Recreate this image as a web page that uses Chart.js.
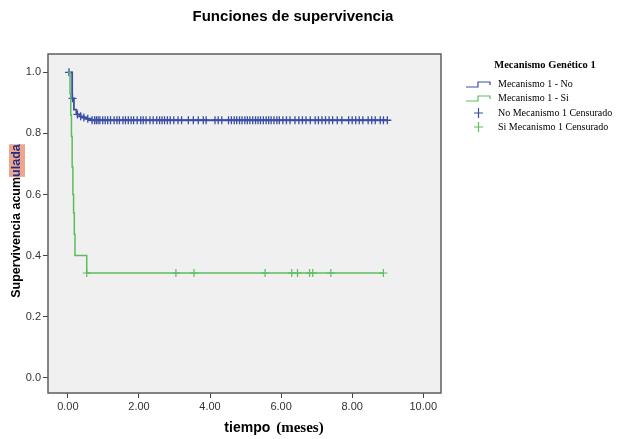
<!DOCTYPE html>
<html>
<head>
<meta charset="utf-8">
<script src="https://cdn.jsdelivr.net/npm/chart.js@4.4.1/dist/chart.umd.min.js"></script>
<style>
  html, body { margin: 0; padding: 0; background: #fff; }
  canvas { display: block; }
</style>
</head>
<body>
<canvas id="km" width="621" height="439"></canvas>
<script>
// tick labels
const xTicks = [0, 2, 4, 6, 8, 10];
const yTicks = [0, 0.2, 0.4, 0.6, 0.8, 1.0];

// Mecanismo 1 - No : step curve (time, survival)
const noTimes = [0, 0.12, 0.17, 0.24, 0.33, 0.42, 0.52, 0.64, 8.99];
const noSurv = [1.0, 0.915, 0.878, 0.862, 0.856, 0.852, 0.848, 0.843, 0.843];
const noCensored = [0.03, 0.13, 0.27, 0.36, 0.45, 0.56, 0.68, 0.75, 0.8, 0.85, 0.9, 0.98,
  1.05, 1.12, 1.2, 1.3, 1.38, 1.45, 1.55, 1.62, 1.7, 1.78, 1.85, 1.95, 2.05, 2.12, 2.2,
  2.31, 2.4, 2.5, 2.58, 2.65, 2.72, 2.8, 2.88, 2.98, 3.1, 3.2, 3.39, 3.53, 3.67, 3.81,
  3.89, 4.14, 4.23, 4.33, 4.52, 4.6, 4.68, 4.75, 4.83, 4.9, 4.98, 5.05, 5.12, 5.2, 5.28,
  5.35, 5.42, 5.5, 5.58, 5.65, 5.72, 5.8, 5.88, 5.95, 6.05, 6.15, 6.25, 6.39, 6.5, 6.6,
  6.7, 6.82, 6.96, 7.05, 7.15, 7.25, 7.35, 7.45, 7.58, 7.71, 7.9, 8.0, 8.1, 8.2, 8.3,
  8.45, 8.55, 8.65, 8.79, 8.88, 8.99];

// Mecanismo 1 - Si
const siTimes = [0, 0.06, 0.08, 0.1, 0.12, 0.14, 0.16, 0.18, 0.2, 0.53, 8.88];
const siSurv = [1.0, 0.93, 0.86, 0.79, 0.69, 0.6, 0.54, 0.47, 0.40, 0.343, 0.343];
const siCensored = [0.53, 3.04, 3.55, 5.55, 6.30, 6.46, 6.80, 6.89, 7.40, 8.88];

const colors = { no: "#3a4ea6", si: "#5cbd5e" };

function stepPoints(times, surv) {
  return times.map((t, i) => ({ x: t, y: surv[i] }));
}

function survAt(times, surv, t) {
  let s = surv[0];
  for (let i = 0; i < times.length; i++) {
    if (times[i] <= t) s = surv[i];
  }
  return s;
}

function censorPoints(cens, times, surv) {
  return cens.map((t) => ({ x: t, y: survAt(times, surv, t) }));
}

const framePlugin = {
  id: "frame",
  beforeDatasetsDraw(chart) {
    const { ctx, chartArea: a } = chart;
    ctx.save();
    ctx.fillStyle = "#f0f0f0";
    ctx.fillRect(a.left, a.top, a.right - a.left, a.bottom - a.top);
    ctx.restore();
  },
  afterDatasetsDraw(chart) {
    const { ctx, chartArea: a } = chart;
    ctx.save();
    ctx.strokeStyle = "#5e5e5e";
    ctx.lineWidth = 1.5;
    ctx.strokeRect(a.left, a.top, a.right - a.left, a.bottom - a.top);
    ctx.restore();
  },
  afterDraw(chart) {
    const ctx = chart.ctx;
    ctx.save();
    ctx.fillStyle = "#000";
    ctx.textBaseline = "middle";

    // title
    ctx.textAlign = "center";
    ctx.font = "bold 15px 'Liberation Sans', Arial, sans-serif";
    ctx.fillText("Funciones de supervivencia", 293, 17);

    // x axis title
    ctx.textAlign = "left";
    ctx.font = "bold 14px 'Liberation Sans', Arial, sans-serif";
    const w1 = ctx.measureText("tiempo ").width;
    ctx.font = "bold 15px 'Liberation Serif', 'Times New Roman', serif";
    const w2 = ctx.measureText("(meses)").width;
    let x0 = 273 - (w1 + w2) / 2;
    ctx.font = "bold 14px 'Liberation Sans', Arial, sans-serif";
    ctx.fillText("tiempo ", x0, 428);
    ctx.font = "bold 15px 'Liberation Serif', 'Times New Roman', serif";
    ctx.fillText("(meses)", x0 + w1 + 2, 428);

    // y axis title (with highlighted tail)
    ctx.save();
    ctx.translate(17, 221);
    ctx.rotate(-Math.PI / 2);
    ctx.font = "bold 12.5px 'Liberation Sans', Arial, sans-serif";
    const p1 = "Supervivencia acum";
    const p2 = "ulada";
    const wa = ctx.measureText(p1).width;
    const wb = ctx.measureText(p2).width;
    const sx = -(wa + wb) / 2;
    ctx.fillStyle = "#eea58c";
    ctx.fillRect(sx + wa, -8, wb, 16);
    ctx.fillStyle = "#000";
    ctx.fillText(p1, sx, 0);
    ctx.fillStyle = "#1d2f86";
    ctx.fillText(p2, sx + wa, 0);
    ctx.restore();

    // legend
    ctx.textAlign = "center";
    ctx.fillStyle = "#000";
    ctx.font = "bold 10.5px 'Liberation Serif', 'Times New Roman', serif";
    ctx.fillText("Mecanismo Genético 1", 545, 65);

    ctx.textAlign = "left";
    ctx.font = "10px 'Liberation Serif', 'Times New Roman', serif";
    const rows = [
      { y: 84, label: "Mecanismo 1 - No", color: colors.no, kind: "step" },
      { y: 98, label: "Mecanismo 1 - Si", color: colors.si, kind: "step" },
      { y: 113, label: "No Mecanismo 1 Censurado", color: colors.no, kind: "cross" },
      { y: 127, label: "Si Mecanismo 1 Censurado", color: colors.si, kind: "cross" },
    ];
    rows.forEach((r) => {
      ctx.strokeStyle = r.color;
      ctx.lineWidth = 1.2;
      ctx.beginPath();
      if (r.kind === "step") {
        ctx.moveTo(466, r.y + 3);
        ctx.lineTo(478, r.y + 3);
        ctx.lineTo(478, r.y - 2);
        ctx.lineTo(490, r.y - 2);
        ctx.lineTo(490, r.y + 1);
      } else {
        ctx.moveTo(474, r.y);
        ctx.lineTo(483, r.y);
        ctx.moveTo(478.5, r.y - 5);
        ctx.lineTo(478.5, r.y + 5);
      }
      ctx.stroke();
      ctx.fillStyle = "#000";
      ctx.fillText(r.label, 498, r.y);
    });
    ctx.restore();
  },
};

const tickFont = { family: "'Liberation Sans', Arial, sans-serif", size: 11 };

new Chart(document.getElementById("km"), {
  type: "scatter",
  data: {
    datasets: [
      {
        label: "Mecanismo 1 - Si",
        data: stepPoints(siTimes, siSurv),
        showLine: true,
        stepped: "before",
        borderColor: colors.si,
        borderWidth: 1.5,
        pointRadius: 0,
      },
      {
        label: "Mecanismo 1 - No",
        data: stepPoints(noTimes, noSurv),
        showLine: true,
        stepped: "before",
        borderColor: colors.no,
        borderWidth: 1.8,
        pointRadius: 0,
      },
      {
        label: "Si Mecanismo 1 Censurado",
        data: censorPoints(siCensored, siTimes, siSurv),
        pointStyle: "cross",
        pointRadius: 4,
        borderColor: colors.si,
        borderWidth: 1.2,
      },
      {
        label: "No Mecanismo 1 Censurado",
        data: censorPoints(noCensored, noTimes, noSurv),
        pointStyle: "cross",
        pointRadius: 4,
        borderColor: colors.no,
        borderWidth: 1.3,
      },
    ],
  },
  options: {
    responsive: false,
    animation: false,
    devicePixelRatio: 1,
    layout: { padding: { top: 54, right: 180, left: 0, bottom: 0 } },
    scales: {
      x: {
        type: "linear",
        min: -0.56,
        max: 10.5,
        afterFit(s) { s.height = 46; },
        afterBuildTicks(s) { s.ticks = xTicks.map((v) => ({ value: v })); },
        ticks: {
          font: tickFont,
          color: "#333",
          padding: 2,
          callback: (v) => Number(v).toFixed(2),
        },
        grid: { drawOnChartArea: false, drawTicks: true, tickLength: 5, color: "#444" },
        border: { display: false },
      },
      y: {
        type: "linear",
        min: -0.05,
        max: 1.06,
        afterFit(s) { s.width = 48; },
        afterBuildTicks(s) { s.ticks = yTicks.map((v) => ({ value: v })); },
        ticks: {
          font: tickFont,
          color: "#333",
          padding: 2,
          callback: (v) => Number(v).toFixed(1),
        },
        grid: { drawOnChartArea: false, drawTicks: true, tickLength: 5, color: "#444" },
        border: { display: false },
      },
    },
    plugins: {
      legend: { display: false },
      tooltip: { enabled: false },
    },
  },
  plugins: [framePlugin],
});
</script>
</body>
</html>
